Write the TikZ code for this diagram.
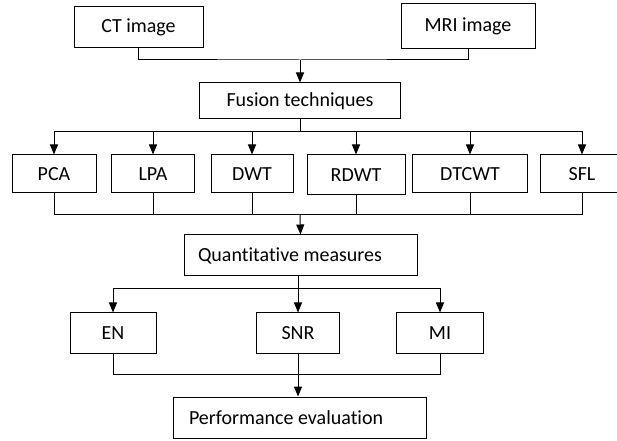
\documentclass[tikz,border=0pt]{standalone}
\usepackage{fontspec}
\setmainfont{Carlito}[Ligatures=NoCommon]
\usetikzlibrary{arrows.meta}

\begin{document}
\begin{tikzpicture}[x=0.75pt,y=0.75pt,yscale=-1,xscale=1,
  line width=0.75pt,
  box/.style={draw,inner sep=0.75pt,font=\fontsize{15}{17}\selectfont},
  boxsize/.style 2 args={minimum width=#1*0.75pt,minimum height=#2*0.75pt},
  leftbox/.style 2 args={box,align=flush left,inner xsep=#1*0.75pt,text width=#2*0.75pt},
  arr/.style={-{Triangle[length=7.5pt,width=6pt]}}]
\useasboundingbox (0,0) rectangle (617,441);

% Inputs
\node[box,boxsize={129}{41}] (ct) at (138.5,27.5) {CT image};
\node[box,boxsize={134}{45}] (mri) at (468,26.5) {MRI image};
% Fusion
\node[box,boxsize={201}{36}] (fusion) at (300,101) {Fusion techniques};
% Techniques
\node[box,boxsize={84}{38}] (pca) at (54,174) {PCA};
\node[box,boxsize={83}{38}] (lpa) at (153,174) {LPA};
\node[box,boxsize={82}{38}] (dwt) at (252,174) {DWT};
\node[box,boxsize={98}{40}] (rdwt) at (356,175) {RDWT};
\node[box,boxsize={115}{38}] (dtcwt) at (470,174) {DTCWT};
\node[box,boxsize={84}{38}] (sfl) at (582,174) {SFL};
% Measures
\node[leftbox={14}{205},boxsize={233}{41}] (quant) at (300.5,255.5) {Quantitative measures};
\node[box,boxsize={86}{40}] (en) at (113,333) {EN};
\node[box,boxsize={83}{40}] (snr) at (298,333) {SNR};
\node[box,boxsize={87}{40}] (mi) at (440,333) {MI};
% Result
\node[leftbox={16}{221},boxsize={253}{41}] (perf) at (299.5,417.5) {Performance evaluation};

% Connectors
\coordinate (top) at (300,60);
\draw (ct.south) |- (top) -| (mri.south);
\draw[arr] (top) -- (fusion.north);

\coordinate (split) at (300,132);
\draw (fusion.south) -- (split);
\foreach \n in {pca,lpa,dwt,rdwt,dtcwt,sfl}
  \draw[arr] (split) -| (\n.north);

\coordinate (join) at (300,215);
\foreach \n in {pca,lpa,dwt,rdwt,dtcwt,sfl}
  \draw (\n.south) |- (join);
\draw[arr] (join) -- (quant.north);

\coordinate (split2) at (298,289);
\draw (quant.south -| split2) -- (split2);
\foreach \n in {en,snr,mi}
  \draw[arr] (split2) -| (\n.north);

\coordinate (join2) at (298,374);
\foreach \n in {en,snr,mi}
  \draw (\n.south) |- (join2);
\draw[arr] (join2) -- (perf.north -| join2);

\end{tikzpicture}
\end{document}
